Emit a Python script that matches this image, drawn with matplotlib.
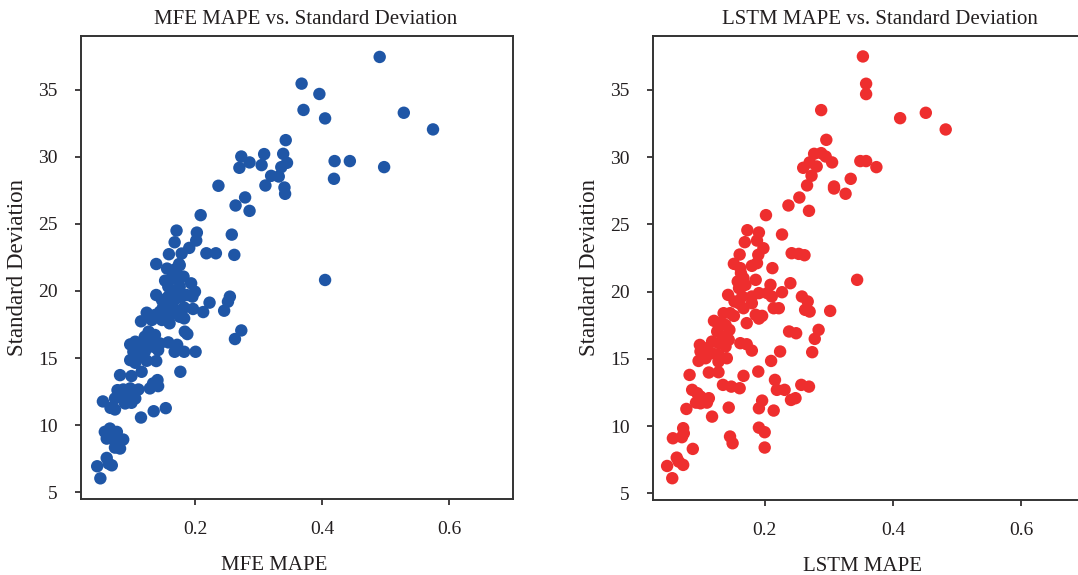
import numpy as np
import matplotlib
matplotlib.use("Agg")
import matplotlib.pyplot as plt

plt.rcParams['font.family'] = ['Liberation Serif', 'DejaVu Serif']

# MFE MAPE vs standard deviation
mfe_mape = [
    0.491, 0.368, 0.396, 0.371, 0.405, 0.529, 0.575, 0.343, 0.273, 0.309,
    0.339, 0.286, 0.270, 0.305, 0.345, 0.336, 0.420, 0.444, 0.498, 0.320,
    0.332, 0.419, 0.311, 0.341, 0.342, 0.237, 0.279, 0.264, 0.286, 0.209,
    0.405,
    0.171, 0.203, 0.202, 0.168, 0.258, 0.191, 0.218, 0.233, 0.262, 0.159,
    0.179, 0.139, 0.175, 0.156, 0.169, 0.176, 0.182, 0.194, 0.153, 0.163,
    0.174, 0.158, 0.176, 0.200, 0.187, 0.196, 0.139, 0.148, 0.158, 0.166,
    0.171, 0.179, 0.223, 0.255, 0.252, 0.246, 0.213, 0.197, 0.183, 0.150,
    0.161, 0.171, 0.145, 0.124, 0.137, 0.155, 0.166, 0.176, 0.183, 0.160,
    0.115, 0.132, 0.148, 0.273, 0.263, 0.184, 0.188, 0.127, 0.121, 0.129,
    0.137, 0.098, 0.106, 0.113, 0.124, 0.134, 0.145, 0.158, 0.172, 0.142,
    0.168, 0.183, 0.201, 0.103, 0.111, 0.121, 0.098, 0.106, 0.124, 0.139,
    0.116, 0.100, 0.082, 0.177, 0.129, 0.141, 0.142, 0.134, 0.078, 0.087,
    0.098, 0.111, 0.074, 0.085, 0.095, 0.106, 0.090, 0.100, 0.055, 0.067,
    0.074, 0.115, 0.135, 0.154, 0.058, 0.066, 0.071, 0.077, 0.061, 0.069,
    0.087, 0.074, 0.082, 0.079, 0.061, 0.064, 0.069, 0.046, 0.051,
]
mfe_std = [
    37.44, 35.45, 34.68, 33.49, 32.86, 33.28, 32.04, 31.24, 30.02, 30.20,
    30.22, 29.58, 29.18, 29.38, 29.55, 29.23, 29.68, 29.68, 29.23, 28.58,
    28.53, 28.36, 27.86, 27.71, 27.24, 27.84, 26.97, 26.37, 25.97, 25.65,
    20.82,
    24.50, 24.35, 23.76, 23.63, 24.20, 23.21, 22.81, 22.81, 22.69, 22.74,
    22.79, 22.01, 22.01, 21.67, 21.62, 21.92, 21.07, 20.57, 20.77, 20.95,
    20.82, 20.32, 20.32, 19.95, 19.70, 19.58, 19.70, 19.33, 19.58, 19.83,
    19.45, 19.58, 19.13, 19.58, 19.20, 18.53, 18.43, 18.66, 18.76, 18.83,
    18.96, 18.58, 18.46, 18.38, 18.21, 18.21, 18.33, 18.08, 17.96, 17.59,
    17.74, 17.84, 17.84, 17.06, 16.42, 16.97, 16.79, 16.97, 16.59, 16.47,
    16.72, 16.02, 16.22, 16.09, 15.97, 15.85, 16.09, 16.17, 15.99, 15.60,
    15.47, 15.47, 15.47, 15.47, 15.22, 15.47, 14.85, 14.65, 14.80, 14.78,
    13.98, 13.66, 13.73, 13.98, 12.74, 13.36, 12.91, 13.11, 12.61, 12.66,
    12.74, 12.66, 11.99, 12.24, 12.11, 11.99, 11.62, 11.67, 11.77, 11.29,
    11.17, 10.57, 11.04, 11.27, 9.50, 9.75, 9.38, 9.50, 9.00, 9.00,
    8.93, 8.33, 8.26, 8.63, 7.56, 7.14, 7.01, 6.94, 6.04,
]

# LSTM MAPE vs standard deviation
lstm_mape = [
    0.353, 0.358, 0.358, 0.288, 0.411, 0.451, 0.482, 0.296, 0.277, 0.288,
    0.295, 0.270, 0.260, 0.281, 0.305, 0.349, 0.358, 0.374, 0.273, 0.334,
    0.266, 0.308, 0.308, 0.326, 0.254, 0.237, 0.269, 0.202, 0.344,
    0.173, 0.191, 0.188, 0.169, 0.227, 0.198, 0.190, 0.161, 0.242, 0.253,
    0.262, 0.152, 0.162, 0.180, 0.188, 0.212, 0.163, 0.186, 0.158, 0.167,
    0.160, 0.170, 0.209, 0.240, 0.143, 0.165, 0.153, 0.180, 0.191, 0.204,
    0.211, 0.227, 0.167, 0.180, 0.160, 0.258, 0.267, 0.263, 0.270, 0.302,
    0.214, 0.222, 0.186, 0.196, 0.191, 0.172, 0.136, 0.146, 0.152, 0.121,
    0.131, 0.139, 0.284, 0.278, 0.238, 0.249, 0.145, 0.126, 0.136, 0.144,
    0.128, 0.118, 0.099, 0.110, 0.139, 0.162, 0.172, 0.180, 0.100, 0.108,
    0.118, 0.128, 0.141, 0.097, 0.128, 0.224, 0.274, 0.210, 0.113, 0.128,
    0.190, 0.167, 0.083, 0.135, 0.148, 0.161, 0.216, 0.219, 0.231, 0.257,
    0.269, 0.087, 0.095, 0.100, 0.093, 0.100, 0.110, 0.113, 0.078, 0.144,
    0.196, 0.191, 0.241, 0.248, 0.214, 0.118, 0.073, 0.074, 0.057, 0.071,
    0.088, 0.191, 0.200, 0.146, 0.150, 0.200, 0.063, 0.066, 0.073, 0.048,
    0.056,
]
lstm_std = [
    37.48, 35.45, 34.68, 33.49, 32.89, 33.29, 32.05, 31.28, 30.24, 30.29,
    30.04, 29.60, 29.20, 29.30, 29.60, 29.70, 29.70, 29.25, 28.61, 28.38,
    27.89, 27.81, 27.66, 27.27, 26.99, 26.40, 26.00, 25.68, 20.87,
    24.56, 24.39, 23.79, 23.67, 24.24, 23.22, 22.73, 22.75, 22.85, 22.80,
    22.70, 22.06, 21.74, 21.91, 22.11, 21.74, 21.37, 20.87, 20.75, 20.99,
    20.25, 20.50, 20.50, 20.62, 19.75, 19.63, 19.26, 19.63, 19.88, 19.88,
    19.63, 19.95, 18.76, 19.13, 19.13, 19.63, 19.26, 18.64, 18.51, 18.56,
    18.76, 18.76, 18.27, 18.19, 17.99, 17.65, 18.39, 18.39, 18.19, 17.82,
    17.65, 17.52, 17.15, 16.48, 17.03, 16.90, 17.15, 17.03, 16.65, 16.41,
    16.16, 16.28, 16.03, 15.79, 15.91, 16.16, 16.08, 15.61, 15.54, 15.04,
    15.41, 15.29, 15.04, 14.84, 14.79, 15.54, 15.49, 14.84, 13.98, 14.00,
    14.05, 13.73, 13.80, 13.06, 12.93, 12.81, 13.43, 12.69, 12.69, 13.06,
    12.93, 12.69, 12.44, 12.19, 11.74, 11.69, 11.74, 12.07, 11.27, 11.37,
    11.89, 11.32, 11.94, 12.07, 11.15, 10.70, 9.84, 9.46, 9.09, 9.17,
    8.30, 9.88, 9.54, 9.22, 8.72, 8.40, 7.65, 7.36, 7.11, 7.03,
    6.12,
]

x_ticks = [0.2, 0.4, 0.6]
y_ticks = [5, 10, 15, 20, 25, 30, 35]

ink = "#231f20"
W, H = 1078, 575
fig = plt.figure(figsize=(W / 100, H / 100), dpi=100)

panels = [
    (mfe_mape, mfe_std, "#1f56a6", "MFE MAPE", "MFE MAPE vs. Standard Deviation",
     [81 / W, 76 / H, 432 / W, 463 / H], (0.0205, 0.701), 0.447, 0.519),
    (lstm_mape, lstm_std, "#ee2e2e", "LSTM MAPE", "LSTM MAPE vs. Standard Deviation",
     [653 / W, 75 / H, 432 / W, 464 / H], (0.026, 0.699), 0.484, 0.525),
]

for xs, ys, col, xlab, title, pos, xlim, xl_pos, t_pos in panels:
    ax = fig.add_axes(pos)
    ax.scatter(xs, ys, s=80, color=col, edgecolors="none")
    ax.set_xlim(*xlim)
    ax.set_ylim(4.5, 39.0)
    ax.set_xticks(x_ticks)
    ax.set_xticklabels([f"{t:.1f}" for t in x_ticks])
    ax.set_yticks(y_ticks)
    ax.tick_params(direction="out", length=4, width=1.2, colors=ink,
                   labelsize=14)
    ax.tick_params(axis="x", pad=12)
    ax.tick_params(axis="y", pad=13)
    for sp in ax.spines.values():
        sp.set_color("#333333")
        sp.set_linewidth(1.4)
    ax.set_xlabel(xlab, fontsize=15, color=ink)
    ax.xaxis.set_label_coords(xl_pos, -0.123)
    ax.set_ylabel("Standard Deviation", fontsize=16.5, color=ink)
    ax.yaxis.set_label_coords(-0.122, 0.5)
    ax.set_title(title, fontsize=15, color=ink, x=t_pos, pad=9)

fig.savefig("out.png", dpi=100)
